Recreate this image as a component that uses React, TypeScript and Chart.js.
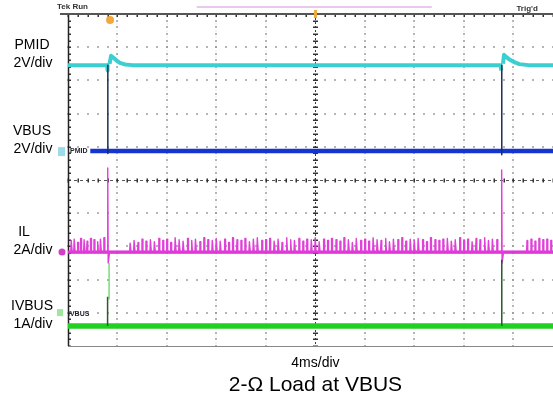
import React, { useEffect, useRef } from "react";
import { Chart, registerables } from "chart.js";

Chart.register(...registerables);

// Horizontal unit: scope divisions (4 ms/div) from the left graticule edge.
// Vertical unit: scope divisions above the bottom graticule line (10 divisions).
const X_MAX = 9.8;
const Y_MAX = 10;

const gridX = [1, 2, 3, 4, 5, 6, 7, 8, 9];
const gridY = [1, 2, 3, 4, 5, 6, 7, 8, 9];

// PMID (cyan)
const pmidTime = [0, 0.79, 0.8, 0.805, 0.84, 0.87, 0.92, 0.98, 1.05, 1.15, 1.3, 8.74, 8.755, 8.76, 8.79, 8.81, 8.86, 8.93, 9.02, 9.12, 9.3, 9.8];
const pmidLevel = [8.46, 8.46, 8.3, null, 8.5, 8.74, 8.68, 8.6, 8.53, 8.48, 8.46, 8.46, 8.3, null, 8.5, 8.77, 8.7, 8.62, 8.55, 8.49, 8.46, 8.46];

// Dark switching edges (PMID collapsing onto VBUS)
const edgeTime = [0.805, 0.805, 0.806, 8.765, 8.765];
const edgeLevel = [8.46, 5.8, null, 8.46, 5.76];

// VBUS (blue)
const vbusTime = [0.45, 9.8];
const vbusLevel = [5.87, 5.87];

// IL (magenta) – baseline plus switching pulses
const IL_BASE = 2.83;
const ilPulsesPre: [number, number][] = [
  [0.07, 3.18], [0.13, 3.22], [0.2, 3.12], [0.26, 3.24], [0.33, 3.2], [0.39, 3.16],
  [0.46, 3.24], [0.53, 3.2], [0.6, 3.14], [0.66, 3.22], [0.73, 3.26],
];
const ilEdge1Time = [0.795, 0.803, 0.812, 0.84];
const ilEdge1Level = [2.83, 5.36, 2.5, 2.83];
const ilPulsesMid: [number, number][] = [
  [1.26, 3.1], [1.34, 3.18], [1.42, 3.12], [1.5, 3.22], [1.58, 3.16], [1.67, 3.2],
  [1.75, 3.14], [1.84, 3.24], [1.92, 3.18], [2.0, 3.22], [2.08, 3.12], [2.17, 3.26],
  [2.25, 3.2], [2.33, 3.16], [2.42, 3.24], [2.5, 3.18], [2.58, 3.22], [2.67, 3.14],
  [2.75, 3.26], [2.83, 3.2], [2.92, 3.18], [3.0, 3.24], [3.08, 3.16], [3.17, 3.22],
  [3.25, 3.12], [3.33, 3.26], [3.42, 3.2], [3.5, 3.18], [3.58, 3.24], [3.67, 3.14],
  [3.75, 3.22], [3.83, 3.26], [3.92, 3.18], [4.0, 3.2], [4.08, 3.24], [4.17, 3.16],
  [4.25, 3.22], [4.33, 3.12], [4.42, 3.26], [4.5, 3.2], [4.58, 3.18], [4.67, 3.24],
  [4.75, 3.16], [4.83, 3.22], [4.92, 3.2], [5.0, 3.26], [5.08, 3.14], [5.17, 3.22],
  [5.25, 3.18], [5.33, 3.24], [5.42, 3.2], [5.5, 3.16], [5.58, 3.26], [5.67, 3.2],
  [5.75, 3.12], [5.83, 3.24], [5.92, 3.18], [6.0, 3.22], [6.08, 3.16], [6.17, 3.26],
  [6.25, 3.2], [6.33, 3.18], [6.42, 3.24], [6.5, 3.14], [6.58, 3.22], [6.67, 3.2],
  [6.75, 3.26], [6.83, 3.16], [6.92, 3.22], [7.0, 3.18], [7.08, 3.24], [7.17, 3.2],
  [7.25, 3.14], [7.33, 3.26], [7.42, 3.2], [7.5, 3.18], [7.58, 3.22], [7.67, 3.24],
  [7.75, 3.16], [7.83, 3.2], [7.92, 3.26], [8.0, 3.18], [8.08, 3.22], [8.17, 3.14],
  [8.25, 3.24], [8.33, 3.2], [8.42, 3.26], [8.5, 3.18], [8.58, 3.22], [8.67, 3.2],
];
const ilEdge2Time = [8.755, 8.763, 8.772, 8.8];
const ilEdge2Level = [2.83, 5.3, 2.5, 2.83];
const ilPulsesPost: [number, number][] = [
  [9.28, 3.18], [9.36, 3.22], [9.44, 3.16], [9.52, 3.24], [9.6, 3.2], [9.68, 3.22], [9.76, 3.18],
];

// IVBUS (green)
const ivbusTime = [0, 9.8];
const ivbusLevel = [0.6, 0.6];
const ivbusSpikeDarkTime = [0.8, 0.8, 0.801, 8.765, 8.765];
const ivbusSpikeDarkLevel = [0.6, 1.48, null, 0.6, 2.6];
const ivbusSpikeGreenTime = [0.83, 0.83];
const ivbusSpikeGreenLevel = [1.4, 2.5];

const sideLabels = [
  { lines: ["PMID", "2V/div"], level: 8.46 },
  { lines: ["VBUS", "2V/div"], level: 5.87 },
  { lines: ["IL", "2A/div"], level: 2.83 },
  { lines: ["IVBUS", "1A/div"], level: 0.6 },
];

const FONT = "'Liberation Sans', Arial, Helvetica, sans-serif";

function pts(t: number[], v: (number | null)[]) {
  return t.map((x, i) => ({ x, y: v[i] }));
}

function buildILTrace() {
  const out: { x: number; y: number }[] = [{ x: 0, y: IL_BASE }];
  const pulses = (list: [number, number][]) => {
    list.forEach(([t, h]) => {
      out.push({ x: t - 0.014, y: IL_BASE }, { x: t - 0.005, y: h }, { x: t + 0.005, y: h }, { x: t + 0.014, y: IL_BASE });
    });
  };
  pulses(ilPulsesPre);
  ilEdge1Time.forEach((t, i) => out.push({ x: t, y: ilEdge1Level[i] }));
  pulses(ilPulsesMid);
  ilEdge2Time.forEach((t, i) => out.push({ x: t, y: ilEdge2Level[i] }));
  pulses(ilPulsesPost);
  out.push({ x: X_MAX, y: IL_BASE });
  return out;
}

const scopeGrid = {
  id: "scopeGrid",
  beforeDatasetsDraw(chart: any) {
    const { ctx, chartArea: a, scales } = chart;
    const x = scales.x;
    const y = scales.y;
    ctx.save();
    ctx.fillStyle = "rgba(150,150,150,0.7)";
    for (const g of gridY) {
      if (g === 5) continue;
      const py = Math.round(y.getPixelForValue(g));
      for (let k = 0; k <= X_MAX * 5; k++) {
        const px = Math.round(x.getPixelForValue(k / 5));
        ctx.fillRect(px - 1, py - 1, 2, 2);
      }
    }
    for (const g of gridX) {
      if (g === 5) continue;
      const px = Math.round(x.getPixelForValue(g));
      for (let k = 0; k <= Y_MAX * 5; k++) {
        const py = Math.round(y.getPixelForValue(k / 5));
        ctx.fillRect(px - 1, py - 1, 2, 2);
      }
    }
    ctx.fillStyle = "rgba(190,190,190,0.6)";
    for (const g of gridX) {
      if (g === 5) continue;
      const px = Math.round(x.getPixelForValue(g));
      for (let k = 1; k <= Y_MAX * 10; k += 2) {
        const py = Math.round(y.getPixelForValue(k / 10));
        ctx.fillRect(px - 0.5, py - 0.5, 1, 1);
      }
    }
    const cx = Math.round(x.getPixelForValue(5)) + 0.5;
    const cy = Math.round(y.getPixelForValue(5)) + 0.5;
    ctx.strokeStyle = "#3a3a3a";
    ctx.lineWidth = 1;
    ctx.setLineDash([2, 2]);
    ctx.beginPath();
    ctx.moveTo(cx, a.top);
    ctx.lineTo(cx, a.bottom);
    ctx.stroke();
    ctx.setLineDash([3, 3]);
    ctx.strokeStyle = "#555";
    ctx.beginPath();
    ctx.moveTo(a.left, cy);
    ctx.lineTo(a.right, cy);
    ctx.stroke();
    ctx.setLineDash([]);
    ctx.fillStyle = "#333";
    for (let k = 0; k <= Y_MAX * 5; k++) {
      const py = Math.round(y.getPixelForValue(k / 5));
      ctx.fillRect(cx - 2.5, py - 0.5, 5, 1.5);
      ctx.fillRect(a.left, py - 0.5, 3, 1.5);
    }
    for (let k = 0; k <= X_MAX * 5; k++) {
      const px = Math.round(x.getPixelForValue(k / 5));
      ctx.fillRect(px - 0.5, cy - 2, 1.5, 4);
      ctx.fillRect(px - 0.5, a.top, 1.5, 3);
    }
    ctx.strokeStyle = "#222";
    ctx.lineWidth = 1.5;
    ctx.beginPath();
    ctx.moveTo(a.left + 0.5, a.top);
    ctx.lineTo(a.left + 0.5, a.bottom);
    ctx.stroke();
    ctx.strokeStyle = "#555";
    ctx.lineWidth = 2;
    ctx.beginPath();
    ctx.moveTo(a.left - 8, a.top);
    ctx.lineTo(a.right, a.top);
    ctx.stroke();
    ctx.strokeStyle = "#888";
    ctx.lineWidth = 1;
    ctx.beginPath();
    ctx.moveTo(a.left, a.bottom + 0.5);
    ctx.lineTo(a.right, a.bottom + 0.5);
    ctx.stroke();
    ctx.restore();
  },
  afterDraw(chart: any) {
    const { ctx, chartArea: a, scales } = chart;
    const x = scales.x;
    const y = scales.y;
    ctx.save();
    ctx.fillStyle = "#333";
    ctx.font = `bold 8px ${FONT}`;
    ctx.textBaseline = "alphabetic";
    ctx.textAlign = "left";
    ctx.fillText("Tek Run", a.left - 11, a.top - 5);
    ctx.fillText("Trig'd", x.getPixelForValue(9.06), a.top - 3);
    ctx.strokeStyle = "#e8c8ec";
    ctx.lineWidth = 2;
    ctx.beginPath();
    ctx.moveTo(x.getPixelForValue(2.6), a.top - 7);
    ctx.lineTo(x.getPixelForValue(7.35), a.top - 7);
    ctx.stroke();
    ctx.fillStyle = "#f2a83a";
    ctx.beginPath();
    ctx.arc(x.getPixelForValue(0.85), a.top + 6, 4, 0, Math.PI * 2);
    ctx.fill();
    const tx = x.getPixelForValue(5);
    ctx.fillRect(tx - 1.5, a.top - 4, 3, 8);
    const m1 = y.getPixelForValue(5.87);
    ctx.fillStyle = "#9edbe8";
    ctx.fillRect(a.left - 10, m1 - 4, 7, 9);
    ctx.fillStyle = "#223";
    ctx.font = `bold 7px ${FONT}`;
    ctx.fillText("PMID", a.left + 2, m1 + 2);
    const m3 = y.getPixelForValue(2.83);
    ctx.fillStyle = "#d040c8";
    ctx.beginPath();
    ctx.arc(a.left - 6, m3, 3.5, 0, Math.PI * 2);
    ctx.fill();
    const m4 = y.getPixelForValue(0.6) - 13;
    ctx.fillStyle = "#9ee89e";
    ctx.fillRect(a.left - 11, m4 - 4, 6, 7);
    ctx.fillStyle = "#223";
    ctx.fillText("IVBUS", a.left, m4 + 3);
    ctx.fillStyle = "#000";
    ctx.font = `14px ${FONT}`;
    ctx.textAlign = "center";
    sideLabels.forEach((s) => {
      const py = y.getPixelForValue(s.level);
      ctx.fillText(s.lines[0], s.lines[0] === "IL" ? 24 : 32, py - 16);
      ctx.fillText(s.lines[1], 33, py + 2);
    });
    ctx.font = `14px ${FONT}`;
    ctx.fillText("4ms/div", x.getPixelForValue(5), a.bottom + 21);
    ctx.font = `21px ${FONT}`;
    ctx.fillText("2-Ω Load at VBUS", x.getPixelForValue(5), a.bottom + 45);
    ctx.restore();
  },
};

export default function App() {
  const ref = useRef<HTMLCanvasElement | null>(null);
  useEffect(() => {
    document.body.style.margin = "0";
    document.body.style.background = "#fff";
    const canvas = ref.current!;
    const line = (data: any[], color: string, width: number, order: number) => ({
      data,
      borderColor: color,
      backgroundColor: color,
      borderWidth: width,
      pointRadius: 0,
      tension: 0,
      spanGaps: false,
      order,
    });
    const chart = new Chart(canvas, {
      type: "line",
      data: {
        datasets: [
          line(pts(ivbusSpikeDarkTime, ivbusSpikeDarkLevel), "#2c5a2c", 1.5, 1),
          line(pts(edgeTime, edgeLevel), "#1d3050", 1.5, 2),
          line(pts(ivbusSpikeGreenTime, ivbusSpikeGreenLevel), "#58d858", 1.2, 3),
          line(pts(pmidTime, pmidLevel), "#3ccfd2", 4, 4),
          line(pts(vbusTime, vbusLevel), "#1535d2", 4.5, 5),
          line(buildILTrace(), "#e040d8", 1.4, 6),
          line(pts([0, X_MAX], [IL_BASE, IL_BASE]), "#dc22d4", 3.2, 7),
          line(pts(ivbusTime, ivbusLevel), "#22d022", 5.5, 8),
        ],
      },
      options: {
        responsive: false,
        animation: false,
        devicePixelRatio: 1,
        layout: { padding: { left: 68, top: 14, right: 0, bottom: 56 } },
        plugins: { legend: { display: false }, tooltip: { enabled: false }, title: { display: false } },
        scales: {
          x: { type: "linear", min: 0, max: X_MAX, display: false },
          y: { type: "linear", min: 0, max: Y_MAX, display: false },
        },
        elements: { line: { borderCapStyle: "butt", borderJoinStyle: "round" } },
      },
      plugins: [scopeGrid],
    });
    return () => chart.destroy();
  }, []);
  return (
    <div style={{ width: 553, height: 402, position: "relative", background: "#fff" }}>
      <canvas ref={ref} width={553} height={402} style={{ display: "block" }} />
    </div>
  );
}
